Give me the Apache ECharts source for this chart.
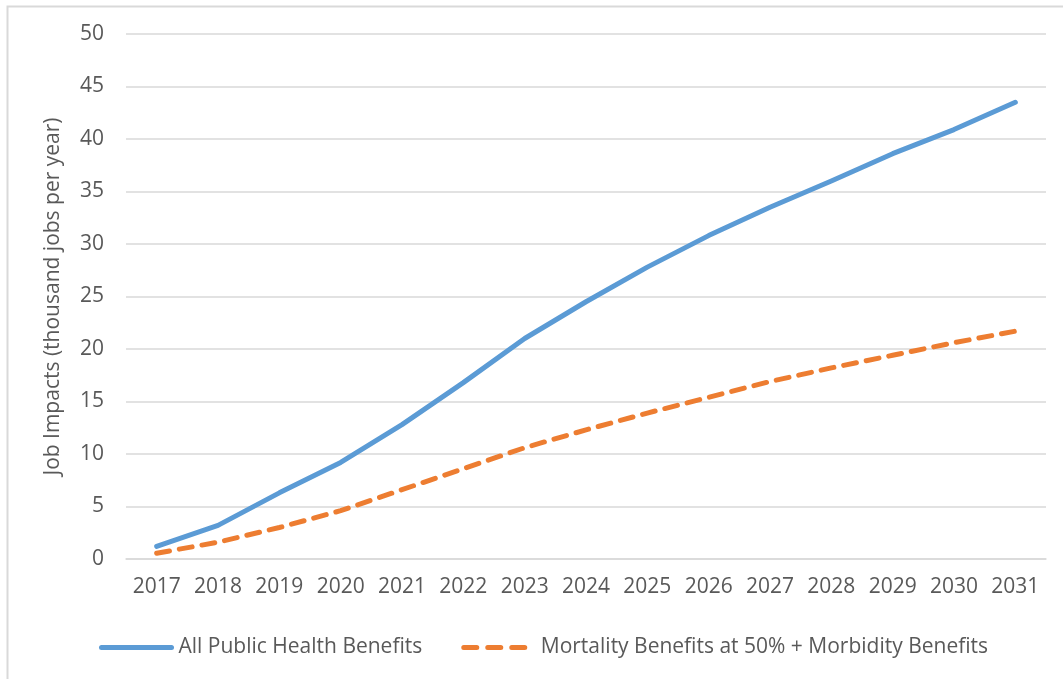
<!DOCTYPE html>
<html>
<head>
<meta charset="utf-8">
<script src="https://cdn.jsdelivr.net/npm/echarts@6/dist/echarts.min.js"></script>
<style>
  html, body { margin: 0; padding: 0; background: #fff; }
  #chart { width: 1063px; height: 679px; }
</style>
</head>
<body>
<div id="chart"></div>
<script>
const years = ["2017", "2018", "2019", "2020", "2021", "2022", "2023", "2024",
  "2025", "2026", "2027", "2028", "2029", "2030", "2031"];
// thousand jobs per year
const allHealth = [1.2, 3.2, 6.3, 9.2, 12.8, 16.8, 21.0, 24.5, 27.8, 30.8, 33.5, 36.0, 38.6, 40.9, 43.5];
const mortalityHalf = [0.55, 1.6, 3.0, 4.6, 6.6, 8.6, 10.6, 12.3, 13.9, 15.4, 16.9, 18.2, 19.4, 20.6, 21.7];
const yTicks = { min: 0, max: 50, interval: 5 };

const font = "'Open Sans', 'Noto Sans', sans-serif";
const grey = "#595959";
const blue = "#5b9bd5";
const orange = "#ed7d31";
const chart = echarts.init(document.getElementById("chart"));

chart.setOption({
  backgroundColor: "#fff",
  animation: false,
  textStyle: { fontFamily: font },
  graphic: [{
    type: "rect",
    left: 5, top: 4,
    shape: { width: 1080, height: 700 },
    style: { fill: "none", stroke: "#d9d9d9", lineWidth: 2 },
    silent: true
  }],
  grid: { left: 126, right: 17, top: 34, bottom: 120 },
  legend: {
    left: 94, top: 632,
    itemWidth: 70, itemHeight: 14, itemGap: 39,
    textStyle: { fontFamily: font, fontSize: 21, color: grey, padding: [0, 0, 0, 2] },
    data: [
      { name: "All Public Health Benefits", itemStyle: { opacity: 0 },
        lineStyle: { width: 5, color: blue } },
      { name: "Mortality Benefits at 50% + Morbidity Benefits", itemStyle: { opacity: 0 },
        lineStyle: { width: 5, color: orange, type: [13, 11], cap: "round" } }
    ]
  },
  xAxis: {
    type: "category",
    data: years,
    boundaryGap: true,
    axisLine: { lineStyle: { color: "#d9d9d9", width: 1.5 } },
    axisTick: { show: false },
    axisLabel: { color: grey, fontSize: 21, fontFamily: font, margin: 18, interval: 0 }
  },
  yAxis: {
    type: "value",
    min: yTicks.min, max: yTicks.max, interval: yTicks.interval,
    name: "Job Impacts (thousand jobs per year)",
    nameLocation: "middle",
    nameGap: 62,
    nameTextStyle: { color: grey, fontSize: 21, fontFamily: font },
    axisLine: { show: false },
    axisTick: { show: false },
    axisLabel: { color: grey, fontSize: 21, fontFamily: font, margin: 22 },
    splitLine: { lineStyle: { color: "#d9d9d9", width: 1.5 } }
  },
  series: [
    {
      name: "All Public Health Benefits",
      type: "line",
      data: allHealth,
      symbol: "none",
      lineStyle: { color: blue, width: 5, cap: "round", join: "round" },
      itemStyle: { color: blue }
    },
    {
      name: "Mortality Benefits at 50% + Morbidity Benefits",
      type: "line",
      data: mortalityHalf,
      symbol: "none",
      lineStyle: { color: orange, width: 5, type: [13, 10], cap: "round", join: "round" },
      itemStyle: { color: orange }
    }
  ]
});
</script>
</body>
</html>
